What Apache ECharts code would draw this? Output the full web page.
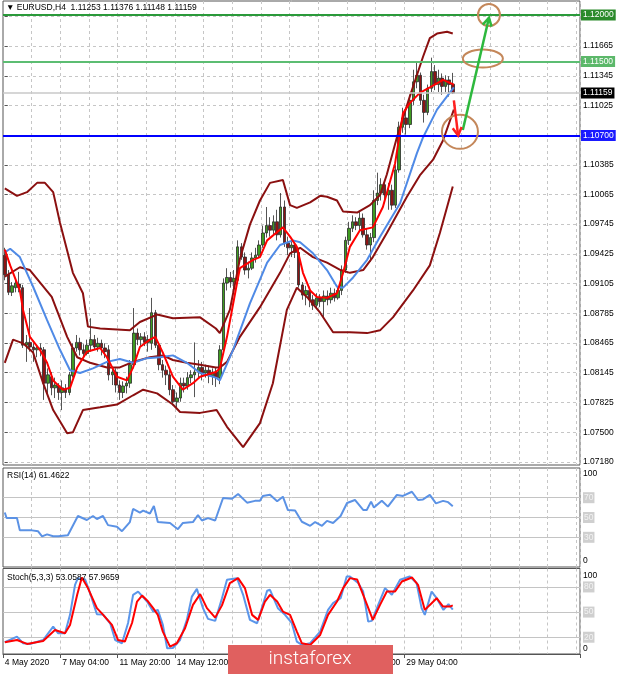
<!DOCTYPE html>
<html><head><meta charset="utf-8">
<script src="https://cdn.jsdelivr.net/npm/echarts@6/dist/echarts.min.js"></script>
<style>html,body{margin:0;padding:0;background:#fff}#c{width:620px;height:674px}</style>
</head><body><div id="c"></div>
<script>
// ---- data (EURUSD H4) : [open, close, low, high]
const candles = [
[1.0941,1.0920,1.0914,1.0949],[1.0920,1.0901,1.0898,1.0925],[1.0901,1.0908,1.0897,1.0912],[1.0906,1.0911,1.0901,1.0916],
[1.0910,1.0906,1.0901,1.0923],[1.0906,1.0844,1.0841,1.0909],[1.0844,1.0847,1.0826,1.0855],[1.0847,1.0842,1.0837,1.0884],
[1.0842,1.0839,1.0826,1.0846],[1.0839,1.0841,1.0831,1.0844],[1.0841,1.0839,1.0832,1.0846],[1.0839,1.0803,1.0785,1.0842],
[1.0803,1.0812,1.0789,1.0819],[1.0810,1.0798,1.0790,1.0815],[1.0798,1.0801,1.0787,1.0809],[1.0800,1.0793,1.0785,1.0803],
[1.0793,1.0798,1.0774,1.0806],[1.0797,1.0793,1.0787,1.0802],[1.0793,1.0812,1.0790,1.0815],[1.0811,1.0841,1.0809,1.0846],
[1.0841,1.0847,1.0837,1.0855],[1.0847,1.0839,1.0833,1.0852],[1.0839,1.0835,1.0830,1.0845],[1.0835,1.0844,1.0833,1.0850],
[1.0844,1.0850,1.0837,1.0873],[1.0850,1.0842,1.0839,1.0855],[1.0842,1.0846,1.0837,1.0852],[1.0846,1.0841,1.0833,1.0850],
[1.0841,1.0837,1.0830,1.0846],[1.0839,1.0812,1.0806,1.0844],[1.0812,1.0815,1.0801,1.0820],[1.0815,1.0801,1.0793,1.0819],
[1.0801,1.0793,1.0785,1.0806],[1.0793,1.0800,1.0787,1.0805],[1.0800,1.0803,1.0792,1.0810],[1.0803,1.0823,1.0798,1.0828],
[1.0823,1.0857,1.0819,1.0884],[1.0857,1.0850,1.0844,1.0862],[1.0850,1.0853,1.0842,1.0857],[1.0853,1.0847,1.0843,1.0858],
[1.0847,1.0850,1.0837,1.0855],[1.0846,1.0879,1.0839,1.0895],[1.0879,1.0844,1.0841,1.0882],[1.0844,1.0823,1.0817,1.0847],
[1.0823,1.0817,1.0809,1.0828],[1.0817,1.0812,1.0801,1.0822],[1.0812,1.0796,1.0790,1.0817],[1.0796,1.0783,1.0779,1.0801],
[1.0783,1.0787,1.0777,1.0793],[1.0787,1.0803,1.0783,1.0809],[1.0803,1.0800,1.0793,1.0809],[1.0800,1.0809,1.0796,1.0815],
[1.0809,1.0812,1.0803,1.0817],[1.0812,1.0815,1.0788,1.0847],[1.0815,1.0820,1.0809,1.0828],[1.0820,1.0814,1.0806,1.0826],
[1.0814,1.0817,1.0809,1.0823],[1.0817,1.0811,1.0803,1.0822],[1.0811,1.0815,1.0801,1.0819],[1.0815,1.0809,1.0799,1.0820],
[1.0809,1.0839,1.0802,1.0844],[1.0839,1.0911,1.0837,1.0916],[1.0911,1.0917,1.0903,1.0927],[1.0917,1.0912,1.0906,1.0923],
[1.0912,1.0916,1.0903,1.0925],[1.0914,1.0950,1.0911,1.0957],[1.0950,1.0939,1.0936,1.0954],[1.0939,1.0925,1.0920,1.0944],
[1.0925,1.0927,1.0916,1.0934],[1.0927,1.0938,1.0925,1.0944],[1.0938,1.0941,1.0933,1.0949],[1.0941,1.0952,1.0938,1.0957],
[1.0952,1.0965,1.0949,1.0973],[1.0965,1.0973,1.0960,1.0993],[1.0973,1.0968,1.0961,1.0982],[1.0968,1.0977,1.0963,1.0984],
[1.0977,1.0963,1.0957,1.0990],[1.0963,1.0993,1.0960,1.1008],[1.0993,1.0954,1.0950,1.1000],[1.0954,1.0949,1.0941,1.0961],
[1.0949,1.0952,1.0939,1.0957],[1.0952,1.0944,1.0938,1.0955],[1.0944,1.0909,1.0906,1.0949],[1.0909,1.0898,1.0893,1.0912],
[1.0898,1.0903,1.0887,1.0908],[1.0903,1.0893,1.0885,1.0907],[1.0893,1.0887,1.0882,1.0898],[1.0887,1.0895,1.0884,1.0900],
[1.0895,1.0891,1.0885,1.0899],[1.0891,1.0897,1.0873,1.0903],[1.0897,1.0893,1.0887,1.0903],[1.0893,1.0900,1.0889,1.0906],
[1.0900,1.0895,1.0891,1.0905],[1.0895,1.0903,1.0893,1.0908],[1.0903,1.0925,1.0898,1.0930],[1.0925,1.0957,1.0922,1.0961],
[1.0957,1.0970,1.0952,1.0977],[1.0970,1.0977,1.0966,1.0984],[1.0977,1.0973,1.0968,1.0982],[1.0973,1.0981,1.0968,1.0988],
[1.0981,1.0963,1.0960,1.0986],[1.0963,1.0952,1.0947,1.0970],[1.0952,1.0960,1.0934,1.0965],[1.0960,1.1000,1.0955,1.1011],
[1.1000,1.1008,1.0995,1.1030],[1.1008,1.1017,1.1000,1.1024],[1.1017,1.1006,1.0998,1.1022],[1.1006,1.1011,1.0990,1.1019],
[1.1011,1.0995,1.0990,1.1017],[1.0995,1.1033,1.0992,1.1038],[1.1033,1.1079,1.1030,1.1085],[1.1079,1.1089,1.1073,1.1100],
[1.1089,1.1082,1.1071,1.1096],[1.1082,1.1108,1.1078,1.1114],[1.1108,1.1128,1.1103,1.1141],[1.1128,1.1135,1.1121,1.1149],
[1.1135,1.1108,1.1103,1.1138],[1.1108,1.1095,1.1084,1.1114],[1.1095,1.1121,1.1092,1.1125],[1.1121,1.1139,1.1117,1.1154],
[1.1139,1.1125,1.1119,1.1146],[1.1125,1.1132,1.1117,1.1141],[1.1132,1.1123,1.1114,1.1137],[1.1123,1.1130,1.1117,1.1135],
[1.1130,1.1125,1.1112,1.1134],[1.11253,1.11159,1.11148,1.11376]
];
// [bar index, value]
const bbUpper = [[0,1.1013],[3.4,1.1005],[6.2,1.1009],[9,1.1019],[11.2,1.1019],[13.5,1.1009],[15.4,1.0976],[19,1.0922],[21.8,1.0900],[23.2,1.0864],[26.6,1.0862],[34.9,1.0860],[37.7,1.0869],[42.5,1.0877],[46.9,1.0873],[54.5,1.0874],[58.9,1.0862],[60,1.0857],[62.8,1.0882],[65.6,1.0937],[68.4,1.0974],[71.2,1.1000],[74,1.1019],[77.6,1.1022],[79.6,1.0995],[81.5,1.0992],[85.2,1.0998],[88,1.1005],[89.9,1.1004],[92.7,1.1000],[94.4,1.0988],[98.3,1.0987],[101.9,1.0995],[104.7,1.1006],[106.6,1.1028],[109.4,1.1068],[113,1.1112],[116.7,1.1155],[118.6,1.1175],[120.6,1.1180],[123.4,1.1182],[125,1.1180]];
const bbMiddle = [[0,1.0918],[4.2,1.0928],[7,1.0925],[13.1,1.0896],[17.4,1.0853],[20.2,1.0831],[23.8,1.0825],[28.5,1.0820],[32.1,1.0820],[35.8,1.0826],[40.5,1.0831],[44.1,1.0833],[46.9,1.0828],[50.8,1.0825],[54.5,1.0823],[58.9,1.0820],[60,1.0820],[62,1.0826],[65.6,1.0853],[71.2,1.0885],[76.8,1.0922],[79.6,1.0943],[82.4,1.0949],[86,1.0939],[89.9,1.0933],[93.7,1.0925],[96.3,1.0922],[100,1.0925],[102.7,1.0939],[106.6,1.0965],[112.2,1.1004],[115.8,1.1027],[119.5,1.1044],[122.3,1.1065],[125.3,1.1098]];
const bbLower = [[0,1.0825],[2.3,1.0850],[5.1,1.0846],[7.9,1.0836],[10.7,1.0803],[13.5,1.0774],[17.4,1.0749],[19,1.0750],[21.8,1.0774],[26.6,1.0777],[31.3,1.0780],[35.8,1.0790],[38.6,1.0796],[42.5,1.0792],[46.9,1.0780],[48.9,1.0772],[54.5,1.0771],[59.1,1.0774],[62,1.0756],[66.5,1.0734],[71.2,1.0760],[74.8,1.0803],[78.7,1.0882],[81.5,1.0906],[84.3,1.0896],[88,1.0879],[91.6,1.0858],[96.3,1.0858],[101.1,1.0857],[104.7,1.0860],[108.3,1.0874],[113.9,1.0903],[118.6,1.0930],[121.4,1.0965],[125,1.1015]];
const maSlow = [[0,1.0944],[1.5,1.0948],[4.2,1.0939],[7.9,1.0907],[11.8,1.0871],[15.4,1.0839],[18.2,1.0817],[21,1.0814],[24.6,1.0819],[28.5,1.0826],[32.1,1.0829],[35.8,1.0825],[39.7,1.0830],[43.3,1.0831],[46.9,1.0833],[50.8,1.0825],[54.5,1.0814],[58.9,1.0809],[60,1.0806],[63.7,1.0839],[68.4,1.0889],[73.2,1.0933],[76.8,1.0952],[80.4,1.0957],[82.4,1.0955],[86,1.0943],[89.9,1.0925],[92.7,1.0907],[94.4,1.0906],[97.2,1.0917],[101.1,1.0936],[104.7,1.0961],[110.3,1.0997],[115,1.1051],[116.7,1.1068],[120.6,1.1098],[125.3,1.1122]];
const maFast = [[0,1.0947],[1.5,1.0930],[4.2,1.0903],[5.1,1.0882],[7,1.0853],[9.8,1.0839],[11.8,1.0825],[13.5,1.0806],[16.2,1.0796],[18.2,1.0798],[20.2,1.0820],[22.9,1.0837],[26.6,1.0841],[28.5,1.0831],[31.3,1.0810],[34.1,1.0806],[35.8,1.0820],[37.7,1.0842],[40.5,1.0850],[42,1.0853],[44.1,1.0836],[46.9,1.0810],[49.7,1.0796],[52.5,1.0803],[54.5,1.0810],[58.9,1.0815],[60,1.0819],[62,1.0853],[64.8,1.0911],[65.6,1.0927],[69.3,1.0936],[71.2,1.0939],[73.2,1.0957],[76,1.0966],[77.6,1.0971],[79.6,1.0961],[81.5,1.0950],[83.2,1.0922],[85.2,1.0903],[87.1,1.0896],[89.9,1.0895],[92.7,1.0900],[94.4,1.0922],[96.3,1.0950],[99.1,1.0968],[102.7,1.0971],[105.5,1.0993],[108.9,1.1040],[111.1,1.1094],[113,1.1105],[115.8,1.1116],[118.6,1.1122],[122.3,1.1130],[125.3,1.1125]];
const rsi = [[0,55],[0.5,49.5],[3.4,49.5],[4.2,37],[7.6,37],[9.3,36],[10.4,31],[11.8,33],[13.5,31],[14.9,31],[17.6,32],[20.4,51.5],[22.9,47.5],[24.6,51.5],[25.7,48.5],[27.4,51.5],[28.8,42.3],[31.3,40.6],[32.7,36.2],[34.9,45.4],[35.8,58.6],[37.7,55],[38.6,57],[40.5,54],[41.6,61.6],[42.7,45.4],[46.1,44.5],[48.3,38.2],[49.7,44.5],[52.5,45.4],[53.9,52.5],[55,47],[56.7,49.4],[58.7,47],[60.9,69.7],[63.4,69],[65.1,73.8],[67.6,65],[69.8,66.8],[71.2,66.8],[72,71.8],[74,73],[76,66.5],[77.6,71],[79,57.5],[81,57],[82.9,45.7],[85.2,41.6],[86.6,45.4],[88.5,41.6],[89.9,46.6],[91.6,44.5],[93.7,51.5],[95.5,64.6],[97.7,67.7],[100,57.6],[101,57.6],[102.2,66],[103,60],[105.2,67],[106.9,61],[109.4,72.8],[111.1,71.8],[113.6,76],[115.3,67.7],[116.7,68.3],[118.6,72.8],[120.3,64.3],[122.3,66.8],[123.7,65.5],[125,61.46]];
const stochMain = [[0,14],[3.4,20.7],[5.1,12.8],[7,12],[10.7,16.7],[13.5,32.7],[14.9,24.7],[16.8,24.7],[18.2,46.7],[19.6,82.5],[20.4,90.5],[22.4,89],[23.8,72.6],[25.7,47.4],[27.4,47],[29.4,36.7],[30.8,16.7],[32.7,12.8],[34.4,37],[35.8,70.6],[37.2,74.5],[39.7,62.6],[41.4,50.6],[42.7,52.6],[44.1,34.7],[45.3,6.8],[46.9,7.2],[48.9,16.7],[50.8,40.7],[52.2,68.5],[53.6,77.7],[55.3,54.7],[56.7,41.9],[58.7,39.5],[60.6,66.6],[62,88.5],[64.8,90.5],[66.5,70.6],[68.4,40.7],[70.4,36.7],[73.2,75.4],[74,76.6],[76.2,54.7],[78.2,46.7],[80.1,36.7],[81.5,14.7],[82.9,10.8],[85.2,13],[88,26.7],[90.2,52.6],[91.6,60.6],[93.7,66.6],[95.4,92.5],[96.3,92.5],[98.6,84.6],[100,74.5],[101.4,38.6],[102.4,39.5],[104.2,58.6],[106.1,78.6],[108,70.6],[110.3,88.5],[113,92.5],[114.9,84.6],[116.3,54.7],[117.2,46.7],[119.1,74.5],[120.5,66.6],[122.4,52.6],[123.8,59.4],[125,53.06]];
const stochSignal = [[0,14],[3.4,16.7],[6.2,12],[10.7,15.4],[14,28.7],[16.8,24.7],[18.2,34.7],[20.2,70.6],[21.5,91.3],[23.2,78.6],[25.7,54.7],[27.4,47],[29.9,34.7],[31.6,16.7],[33.5,14.8],[35.5,37],[36.9,62.6],[38.3,69.7],[40,62.6],[41.4,54.7],[42.7,46.7],[44.1,26.7],[46.1,8.8],[48,12.8],[50.3,30.7],[52.5,58.6],[54.5,71.4],[56.4,54.7],[58.7,43.4],[60.6,58],[62.8,84.6],[65.1,90.5],[67,78.6],[69,46.7],[70.7,40.7],[72.6,62.6],[74,70.6],[76,62.6],[77.6,50.6],[79.6,46.7],[81.5,26.7],[82.9,12.8],[85.2,10.8],[88,22.7],[90.2,46.7],[92.7,62.6],[94.4,78.6],[96.3,90.5],[98.3,89],[100,70.6],[102.7,40.7],[104.7,58.6],[106.6,74.5],[108.9,74.5],[110.8,86.5],[113.6,91.3],[115.3,82.5],[117.2,52.6],[119.1,60.6],[120.5,66.6],[122.3,56.6],[124.2,56.6],[125,57.97]];
const priceTicks = [1.07180,1.07500,1.07825,1.08145,1.08465,1.08785,1.09105,1.09425,1.09745,1.10065,1.10385,1.11025,1.11345,1.11665];
const priceGridValues = [1.07180,1.07500,1.07825,1.08145,1.08465,1.08785,1.09105,1.09425,1.09745,1.10065,1.10385,1.10705,1.11025,1.11345,1.11665,1.11985];
const timeLabels = ['4 May 2020','7 May 04:00','11 May 20:00','14 May 12:00','19 May 04:00','21 May 20:00','26 May 12:00','29 May 04:00'];
const resistance = [1.12000, 1.11500];
const support = [1.10700];
const lastPrice = 1.11159;
const rsiLevels = [30, 50, 70];
const stochLevels = [20, 50, 80];

// ---- chart
const N = 161;
const cats = Array.from({length: N}, (_, i) => String(i));
const FONT = '"Liberation Sans", Arial, sans-serif';
const FS = 8.5;
const chart = echarts.init(document.getElementById('c'));
const dash = {color: '#c6c6c6', width: 1, type: [3, 3]};
const vGrid = {show: true, interval: (i) => i % 8 === 0 && i > 0, lineStyle: dash};
const catAxis = (g, extra) => Object.assign({type: 'category', gridIndex: g, data: cats, boundaryGap: true,
  axisLine: {show: false}, axisTick: {show: false}, axisLabel: {show: false}, splitLine: vGrid}, extra || {});
const valAxis = (g) => ({type: 'value', gridIndex: g, min: -0.5, max: N - 0.5, show: false, splitLine: {show: false}});
const line = (data, xi, yi, color, w) => ({type: 'line', xAxisIndex: xi, yAxisIndex: yi, data, symbol: 'none',
  lineStyle: {color, width: w}, silent: true, z: 3});
const BB = '#8b1010';
const mkLabel = (bg) => ({show: true, position: 'end', distance: 1, formatter: (p) => Number(p.value).toFixed(5),
  backgroundColor: bg, color: '#fff', padding: [1, 2], fontSize: FS, fontFamily: FONT});
const lvlRich = (top, bot) => ({
  t: {padding: [top, 0, 0, 0], fontSize: FS, fontFamily: FONT, color: '#000'},
  b: {padding: [0, 0, bot, 0], fontSize: FS, fontFamily: FONT, color: '#000'},
  g: {backgroundColor: '#cfcfcf', color: '#f3f3f3', padding: [1, 1], fontSize: FS, fontFamily: FONT}
});
const oscAxis = (g, max, levels, top, bot) => ({type: 'value', gridIndex: g, position: 'right', min: 0, max: max,
  axisLine: {show: false}, axisTick: {show: false, customValues: levels},
  axisLabel: {customValues: [0].concat(levels, [100]), margin: 3,
    formatter: (v) => { v = Number(v); return v === 100 ? '{t|100}' : v === 0 ? '{b|0}' : '{g|' + v + '}'; },
    rich: lvlRich(top, bot)},
  splitLine: {show: true, lineStyle: {color: '#c4c4c4', width: 1, type: 'solid'}}});

const option = {
  animation: false,
  backgroundColor: '#fff',
  textStyle: {fontFamily: FONT},
  grid: [
    {left: 3, width: 577, top: 1, height: 464, show: true, borderColor: '#555', borderWidth: 1},
    {left: 3, width: 577, top: 468, height: 99, show: true, borderColor: '#555', borderWidth: 1},
    {left: 3, width: 577, top: 568.5, height: 85.5, show: true, borderColor: '#555', borderWidth: 1}
  ],
  xAxis: [
    catAxis(0), valAxis(0),
    catAxis(1), valAxis(1),
    catAxis(2, {
      axisLine: {show: true, lineStyle: {color: '#555'}},
      axisTick: {show: true, interval: (i) => i % 16 === 0 && i <= 112, length: 4, lineStyle: {color: '#555'}},
      axisLabel: {show: true, interval: (i) => i % 16 === 0 && i <= 112, align: 'left', margin: 4,
        formatter: (v, i) => timeLabels[i / 16] || '', fontSize: FS, fontFamily: FONT, color: '#000'}
    }), valAxis(2)
  ],
  yAxis: [
    {type: 'value', gridIndex: 0, position: 'right', min: 1.07148, max: 1.12151,
      axisLine: {show: false},
      axisTick: {show: true, customValues: priceGridValues, length: 3, lineStyle: {color: '#555'}},
      axisLabel: {customValues: priceTicks, formatter: (v) => Number(v).toFixed(5), margin: 3, fontSize: FS, fontFamily: FONT, color: '#000'},
      splitLine: {show: true, lineStyle: dash}},
    oscAxis(1, 100, rsiLevels, 11, 13),
    oscAxis(2, 102, stochLevels, 11, 10)
  ],
  series: [
    {type: 'candlestick', xAxisIndex: 0, yAxisIndex: 0, data: candles, barWidth: 3, silent: true,
      itemStyle: {color: '#3f9c20', color0: '#8c1414', borderColor: '#2a2a2a', borderColor0: '#2a2a2a', borderWidth: 0.8},
      markLine: {silent: true, precision: 5, symbol: ['none', 'none'], animation: false, data: [
        {yAxis: lastPrice, lineStyle: {color: '#c8c8c8', width: 1.5, type: 'solid'}, label: mkLabel('#000')},
        {yAxis: resistance[0], lineStyle: {color: '#2a9a3a', width: 2, type: 'solid'}, label: mkLabel('#2b8a2b')},
        {yAxis: resistance[1], lineStyle: {color: '#5cbd72', width: 2, type: 'solid'}, label: mkLabel('#5cb86a')},
        {yAxis: support[0], lineStyle: {color: '#0000ff', width: 2, type: 'solid'}, label: mkLabel('#1a1aff')}
      ]}},
    line(bbUpper, 1, 0, BB, 2),
    line(bbMiddle, 1, 0, BB, 2),
    line(bbLower, 1, 0, BB, 2),
    line(maSlow, 1, 0, '#4f8ae6', 2),
    line(maFast, 1, 0, '#ff0000', 2),
    line(rsi, 3, 1, '#5b92e5', 2),
    line(stochMain, 5, 2, '#5b96ea', 2),
    line(stochSignal, 5, 2, '#ff0000', 2)
  ]
};
chart.setOption(option);

// ---- annotations, anchored in data space
const px = (i, p) => chart.convertToPixel({seriesIndex: 1}, [i, p]);
const BROWN = '#c4875a';
const ell = (i, p, rx, ry) => { const c = px(i, p); return {type: 'ellipse', shape: {cx: c[0], cy: c[1], rx, ry}, style: {fill: 'none', stroke: BROWN, lineWidth: 2}, z: 100}; };
function arrow(a, b, color) {
  const A = px(a[0], a[1]), B = px(b[0], b[1]);
  const dx = B[0] - A[0], dy = B[1] - A[1], L = Math.hypot(dx, dy), ux = dx / L, uy = dy / L;
  const hl = 8, hw = 4.5;
  const bx = B[0] - ux * hl, by = B[1] - uy * hl;
  return [
    {type: 'line', shape: {x1: A[0], y1: A[1], x2: B[0], y2: B[1]}, style: {stroke: color, lineWidth: 2.5}, z: 101},
    {type: 'polyline', shape: {points: [[bx - uy * hw, by + ux * hw], B, [bx + uy * hw, by - ux * hw]]}, style: {stroke: color, lineWidth: 2.5, fill: 'none'}, z: 101}
  ];
}
const txt = (x, y, s) => ({type: 'text', left: x, top: y, style: {text: s, fontSize: FS, fontFamily: FONT, fill: '#000'}, z: 50});
chart.setOption({graphic: [
  txt(6, 3, '\u25BC EURUSD,H4  1.11253 1.11376 1.11148 1.11159'),
  txt(7, 471, 'RSI(14) 61.4622'),
  txt(7, 573, 'Stoch(5,3,3) 53.0587 57.9659'),
  ell(135.1, 1.1200, 11, 11),
  ell(133.4, 1.1153, 20, 9),
  ell(127.0, 1.1074, 18, 17)
].concat(
  arrow([127.8, 1.1076], [135.1, 1.1197], '#2db83d'),
  arrow([125.3, 1.1108], [126.5, 1.1070], '#ff2020'),
  [
    {type: 'rect', shape: {x: 228, y: 645, width: 165, height: 29}, style: {fill: '#e0605f'}, z: 200},
    {type: 'text', x: 310, y: 659, style: {text: 'instaforex', fill: '#fff', fontSize: 19, fontWeight: 300, fontFamily: 'Roboto, sans-serif', align: 'center', verticalAlign: 'middle'}, z: 201}
  ]
)});
</script>
</body></html>
